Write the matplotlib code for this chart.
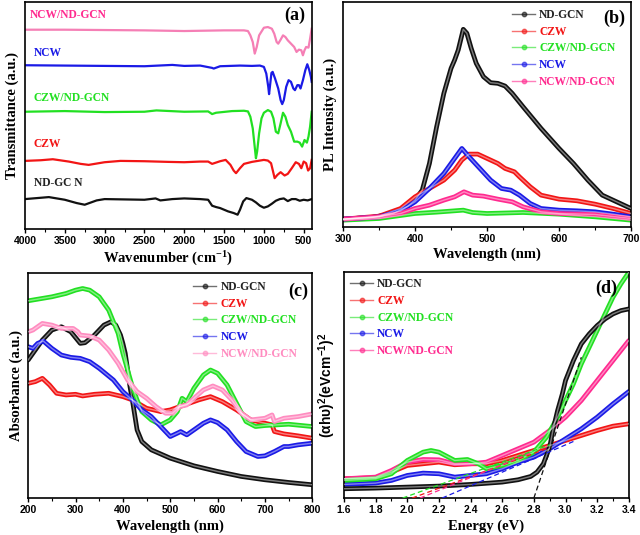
import numpy as np
import matplotlib
matplotlib.use("Agg")
import matplotlib.pyplot as plt
from matplotlib.lines import Line2D
from matplotlib.ticker import MultipleLocator

plt.rcParams['mathtext.default'] = 'regular'

SERIF = 'Liberation Serif'
SANS = 'Liberation Sans'

names = ['ND-GCN', 'CZW', 'CZW/ND-GCN', 'NCW', 'NCW/ND-GCN']

# ---------------- (a) FTIR ----------------
ftir_black_x = [4000, 3850, 3700, 3500, 3350, 3250, 3100, 3000, 2500, 2360, 2300, 2150, 2000, 1800, 1700, 1650,
                1600, 1550, 1450, 1380, 1330, 1300, 1260, 1220, 1150, 1100, 1050, 1000, 950, 900, 850, 800,
                750, 700, 650, 600, 550, 500, 450, 400]
ftir_black_y = [90, 93, 96, 88, 78, 73, 86, 90, 88, 92, 86, 90, 92, 90, 88, 70,
                66, 63, 53, 48, 43, 58, 83, 93, 88, 80, 70, 64, 68, 76, 85, 90,
                92, 84, 90, 90, 85, 88, 86, 90]
ftir_red_x = [4000, 3800, 3650, 3450, 3300, 3200, 3000, 2800, 2500, 2200, 2000, 1800, 1700, 1650, 1600, 1550,
              1480, 1420, 1380, 1350, 1300, 1250, 1150, 1050, 1000, 950, 910, 880, 865, 830, 790, 740,
              700, 650, 600, 560, 530, 500, 470, 445, 420, 400]
ftir_red_y = [205, 207, 210, 203, 196, 193, 201, 205, 204, 202, 201, 203, 203, 196, 200, 204,
              208, 193, 176, 168, 183, 196, 202, 206, 208, 206, 198, 168, 153, 163, 171, 161,
              166, 183, 201, 196, 183, 203, 198, 176, 183, 208]
ftir_green_x = [4000, 3500, 3000, 2500, 2350, 2000, 1700, 1650, 1600, 1400, 1250, 1200, 1170, 1140, 1120, 1100,
                1085, 1060, 1030, 1000, 950, 910, 880, 850, 820, 790, 760, 730, 700, 660, 620, 580,
                550, 520, 490, 460, 440, 420, 400]
ftir_green_y = [353, 355, 352, 353, 357, 353, 354, 346, 350, 355, 356, 354, 338, 303, 258, 213,
                233, 288, 333, 350, 358, 353, 333, 293, 288, 318, 350, 338, 313, 293, 263, 263,
                260, 248, 268, 260, 278, 308, 353]
ftir_blue_x = [4000, 3500, 3000, 2500, 2150, 2000, 1800, 1650, 1630, 1550, 1300, 1150, 1050, 1000, 970, 945,
               935, 920, 905, 890, 860, 820, 790, 770, 750, 720, 690, 660, 630, 610, 580, 560,
               540, 510, 480, 455, 430, 410, 400]
ftir_blue_y = [493, 492, 491, 490, 494, 491, 492, 485, 483, 490, 492, 491, 492, 488, 468, 428,
               406, 438, 470, 473, 453, 423, 388, 376, 388, 428, 448, 443, 423, 418, 433, 433,
               423, 448, 478, 496, 478, 458, 443]
ftir_pink_x = [4000, 3500, 3000, 2500, 2000, 1500, 1250, 1200, 1170, 1140, 1115, 1090, 1060, 1000, 950, 900,
               870, 840, 820, 790, 760, 730, 700, 660, 620, 590, 560, 530, 510, 490, 470, 440,
               420, 400]
ftir_pink_y = [600, 600, 599, 598, 596, 598, 598, 596, 583, 563, 528, 548, 583, 606, 608, 603,
               588, 563, 558, 570, 583, 578, 568, 558, 548, 533, 540, 538, 523, 538, 548, 546,
               573, 603]

# ---------------- (b) PL ----------------
pl_black_x = [300, 340, 370, 390, 400, 410, 420, 430, 440, 450, 455, 460, 467, 472, 478, 485,
              495, 505, 515, 525, 535, 550, 575, 600, 620, 640, 660, 680, 700]
pl_black_y = [23, 28, 40, 62, 80, 110, 190, 300, 400, 475, 500, 530, 592, 580, 535, 490,
              450, 432, 430, 422, 400, 360, 295, 235, 190, 140, 95, 75, 55]
pl_red_x = [300, 350, 380, 400, 420, 440, 455, 465, 475, 487, 500, 515, 525, 538, 545, 560,
            575, 600, 625, 650, 675, 700]
pl_red_y = [23, 32, 55, 90, 115, 140, 170, 200, 218, 218, 205, 190, 175, 165, 150, 120,
            95, 83, 78, 68, 55, 40]
pl_green_x = [300, 350, 400, 430, 467, 480, 500, 550, 600, 650, 700]
pl_green_y = [20, 25, 40, 44, 50, 43, 40, 43, 38, 30, 20]
pl_blue_x = [300, 350, 380, 400, 420, 440, 455, 465, 475, 490, 505, 520, 533, 545, 560, 575,
             600, 625, 650, 675, 700]
pl_blue_y = [23, 30, 48, 75, 115, 160, 205, 235, 210, 175, 140, 115, 110, 95, 70, 55,
             50, 48, 45, 38, 30]
pl_pink_x = [300, 350, 380, 400, 420, 440, 455, 468, 480, 495, 515, 535, 550, 575, 600, 650, 700]
pl_pink_y = [23, 30, 40, 55, 65, 80, 90, 105, 95, 92, 83, 75, 60, 45, 40, 37, 25]

# ---------------- (c) UV-vis ----------------
uv_black_x = [200, 210, 230, 250, 270, 290, 310, 320, 340, 360, 375, 385, 395, 400, 405, 410,
              415, 420, 425, 430, 440, 460, 500, 550, 600, 650, 700, 750, 800]
uv_black_y = [415, 435, 475, 505, 515, 500, 465, 467, 490, 520, 530, 520, 490, 465, 435, 385,
              335, 295, 250, 205, 170, 145, 120, 97, 80, 65, 55, 47, 40]
uv_red_x = [200, 215, 230, 245, 260, 280, 300, 315, 340, 370, 400, 420, 450, 480, 500, 520,
            540, 560, 585, 610, 640, 670, 700, 715, 720, 740, 770, 800]
uv_red_y = [345, 350, 360, 340, 315, 310, 312, 307, 312, 315, 305, 295, 270, 260, 265, 275,
            285, 295, 305, 290, 265, 235, 225, 220, 200, 193, 187, 180]
uv_green_x = [200, 250, 280, 300, 315, 330, 350, 370, 390, 400, 410, 420, 430, 440, 460, 480,
              500, 515, 525, 535, 550, 570, 585, 600, 620, 640, 660, 680, 700, 750, 800]
uv_green_y = [593, 605, 615, 625, 630, 625, 605, 565, 495, 435, 385, 335, 295, 260, 235, 220,
              235, 260, 300, 290, 330, 370, 385, 375, 340, 285, 230, 215, 218, 222, 215]
uv_blue_x = [200, 210, 220, 232, 250, 270, 290, 310, 330, 350, 380, 400, 420, 440, 460, 480,
             500, 515, 522, 535, 550, 570, 585, 600, 620, 640, 660, 685, 700, 720, 740, 750,
             770, 800]
uv_blue_y = [455, 450, 465, 472, 450, 430, 423, 420, 410, 390, 355, 320, 295, 265, 245, 215,
             185, 195, 200, 190, 205, 225, 235, 227, 205, 170, 140, 125, 127, 140, 155, 155,
             160, 165]
uv_pink_x = [200, 210, 230, 250, 270, 295, 305, 310, 330, 350, 370, 390, 410, 430, 450, 470,
             490, 505, 520, 535, 550, 570, 590, 610, 630, 650, 670, 700, 715, 720, 740, 770, 800]
uv_pink_y = [500, 505, 525, 520, 510, 510, 500, 490, 487, 475, 445, 405, 355, 320, 300, 275,
             255, 255, 275, 280, 300, 325, 337, 325, 295, 255, 235, 240, 250, 230, 240, 245, 253]

# ---------------- (d) Tauc ----------------
tauc_black_x = [1.6, 1.8, 2.0, 2.2, 2.4, 2.6, 2.7, 2.78, 2.82, 2.86, 2.9, 2.92, 2.95, 2.98, 3.0, 3.05,
                3.1, 3.15, 3.2, 3.25, 3.3, 3.35, 3.4]
tauc_black_y = [28, 30, 33, 36, 41, 48, 55, 65, 78, 103, 153, 203, 263, 313, 353, 413,
                463, 493, 518, 538, 553, 563, 568]
tauc_green_x = [1.6, 1.8, 1.9, 2.0, 2.1, 2.15, 2.2, 2.3, 2.38, 2.45, 2.5, 2.55, 2.6, 2.7, 2.8, 2.88,
                2.95, 3.0, 3.05, 3.1, 3.15, 3.2, 3.25, 3.3, 3.35, 3.4]
tauc_green_y = [53, 58, 73, 113, 138, 143, 138, 113, 116, 103, 88, 93, 98, 113, 138, 183,
                243, 293, 343, 403, 453, 503, 553, 603, 643, 678]
tauc_red_x = [1.6, 1.8, 1.9, 2.0, 2.1, 2.2, 2.3, 2.4, 2.5, 2.6, 2.7, 2.8, 2.9, 3.0, 3.1, 3.2, 3.3, 3.4]
tauc_red_y = [58, 61, 78, 98, 103, 108, 100, 103, 103, 113, 128, 143, 158, 173, 188, 203, 216, 223]
tauc_pink_x = [1.6, 1.8, 1.9, 2.0, 2.1, 2.2, 2.3, 2.4, 2.5, 2.6, 2.7, 2.8, 2.9, 3.0, 3.1, 3.2, 3.3, 3.4]
tauc_pink_y = [58, 63, 83, 108, 116, 115, 103, 103, 108, 128, 148, 168, 203, 243, 293, 353, 413, 473]
tauc_blue_x = [1.6, 1.8, 1.9, 2.0, 2.1, 2.2, 2.3, 2.4, 2.5, 2.6, 2.7, 2.8, 2.9, 3.0, 3.1, 3.2, 3.3, 3.4]
tauc_blue_y = [41, 45, 53, 68, 75, 73, 63, 68, 73, 88, 108, 123, 148, 178, 208, 243, 283, 320]

# band-gap extrapolations: (x at zero, x end, y end) per sample
fit_x0 = [2.80, 2.03, 1.97, 2.22, 2.08]
fit_x1 = [3.10, 2.88, 2.90, 3.05, 2.78]
fit_y1 = [423, 148, 160, 170, 135]

col_black = '#111111'
col_red = '#f21515'
col_green = '#22e022'
col_blue = '#1a1ae6'
col_pink_a = '#f57fb5'
col_pink = '#ff2a8f'
col_pink_c = '#ff8cc0'


def hollow(ax, x, y, color, lw=3.4):
    # thick coloured trace with a pale core, like the dense open-circle symbols
    ax.plot(x, y, color=color, lw=lw, solid_capstyle='round', zorder=2)
    ax.plot(x, y, color='white', lw=lw * 0.3, alpha=0.45, zorder=3)


def style_axes(ax, xmin, xmax, major, minor, fmt=None):
    ax.set_xlim(xmin, xmax)
    ax.xaxis.set_major_locator(MultipleLocator(major))
    ax.xaxis.set_minor_locator(MultipleLocator(minor))
    ax.set_yticks([])
    ax.tick_params(axis='x', which='major', direction='out', length=3, width=1, pad=2,
                   labelsize=7.5)
    ax.tick_params(axis='x', which='minor', direction='out', length=2, width=0.8)
    for lab in ax.get_xticklabels():
        lab.set_fontfamily(SANS)
        lab.set_fontweight('bold')
    for sp in ax.spines.values():
        sp.set_linewidth(1.2)


def add_legend(ax, colors, x, y):
    handles = [Line2D([0], [0], color=c, lw=1.0, alpha=0.6, marker='o', markersize=3.2,
                      markerfacecolor=c, markeredgecolor=c) for c in colors]
    leg = ax.legend(handles, names, loc='upper left', bbox_to_anchor=(x, y), frameon=False,
                    handlelength=2.0, handletextpad=0.35, labelspacing=0.42, borderpad=0,
                    borderaxespad=0, prop={'family': SERIF, 'weight': 'bold', 'size': 8.3})
    for t, c in zip(leg.get_texts(), colors):
        t.set_color(c if c != col_black else '#222222')


fig = plt.figure(figsize=(6.4, 5.35), dpi=100)
lab_font = dict(family=SERIF, weight='bold', size=10.5)

# (a)
ax = fig.add_axes([0.039, 0.572, 0.448, 0.424])
ax.plot(ftir_black_x, ftir_black_y, color=col_black, lw=1.6)
ax.plot(ftir_red_x, ftir_red_y, color=col_red, lw=1.6)
ax.plot(ftir_green_x, ftir_green_y, color=col_green, lw=1.6)
ax.plot(ftir_blue_x, ftir_blue_y, color=col_blue, lw=1.6)
ax.plot(ftir_pink_x, ftir_pink_y, color=col_pink_a, lw=1.6)
ax.set_ylim(0, 683)
style_axes(ax, 4000, 400, 500, 250)
ax.set_xlabel('Wavenumber (cm$^{-1}$)', labelpad=3, **lab_font)
ax.set_ylabel('Transmittance (a.u.)', labelpad=4, **lab_font)
tfont = dict(family=SERIF, weight='bold', size=8.3, va='center', transform=ax.transAxes)
ax.text(0.017, 0.943, 'NCW/ND-GCN', color=col_pink, **tfont)
ax.text(0.031, 0.775, 'NCW', color=col_blue, **tfont)
ax.text(0.031, 0.577, 'CZW/ND-GCN', color=col_green, **tfont)
ax.text(0.031, 0.374, 'CZW', color=col_red, **tfont)
ax.text(0.031, 0.203, 'ND-GC N', color='#222222', **tfont)
ax.text(0.976, 0.943, '(a)', ha='right', va='center', transform=ax.transAxes,
        family=SERIF, weight='bold', size=13)

# (b)
ax = fig.add_axes([0.536, 0.576, 0.45, 0.421])
hollow(ax, pl_black_x, pl_black_y, col_black)
hollow(ax, pl_red_x, pl_red_y, col_red)
hollow(ax, pl_green_x, pl_green_y, col_green)
hollow(ax, pl_blue_x, pl_blue_y, col_blue)
hollow(ax, pl_pink_x, pl_pink_y, col_pink)
ax.set_ylim(0, 675)
style_axes(ax, 300, 700, 100, 50)
ax.set_xlabel('Wavelength (nm)', labelpad=3, **lab_font)
ax.set_ylabel('PL Intensity (a.u.)', labelpad=4, **lab_font)
add_legend(ax, [col_black, col_red, col_green, col_blue, col_pink], 0.587, 0.968)
ax.text(0.979, 0.924, '(b)', ha='right', va='center', transform=ax.transAxes,
        family=SERIF, weight='bold', size=13)

# (c)
ax = fig.add_axes([0.044, 0.069, 0.444, 0.421])
hollow(ax, uv_black_x, uv_black_y, col_black)
hollow(ax, uv_red_x, uv_red_y, col_red)
hollow(ax, uv_green_x, uv_green_y, col_green)
hollow(ax, uv_blue_x, uv_blue_y, col_blue)
hollow(ax, uv_pink_x, uv_pink_y, col_pink_c)
ax.set_ylim(0, 677)
style_axes(ax, 200, 800, 100, 50)
ax.set_xlabel('Wavelength (nm)', labelpad=3, **lab_font)
ax.set_ylabel('Absorbance (a.u.)', labelpad=4, **lab_font)
add_legend(ax, [col_black, col_red, col_green, col_blue, col_pink_c], 0.581, 0.965)
ax.text(0.986, 0.92, '(c)', ha='right', va='center', transform=ax.transAxes,
        family=SERIF, weight='bold', size=13)

# (d)
ax = fig.add_axes([0.5375, 0.069, 0.445, 0.422])
hollow(ax, tauc_red_x, tauc_red_y, col_red)
hollow(ax, tauc_blue_x, tauc_blue_y, col_blue)
hollow(ax, tauc_pink_x, tauc_pink_y, col_pink)
hollow(ax, tauc_green_x, tauc_green_y, col_green)
hollow(ax, tauc_black_x, tauc_black_y, col_black)
fit_cols = [col_black, col_red, col_green, col_blue, col_pink]
for x0, x1, y1, c in zip(fit_x0, fit_x1, fit_y1, fit_cols):
    ax.plot([x0, x1], [0, y1], color=c, lw=0.9, ls=(0, (4, 2.5)), zorder=4)
ax.set_ylim(0, 678)
style_axes(ax, 1.6, 3.4, 0.2, 0.1)
ax.xaxis.set_major_formatter(matplotlib.ticker.FormatStrFormatter('%.1f'))
for lab in ax.get_xticklabels():
    lab.set_fontfamily(SANS)
    lab.set_fontweight('bold')
ax.set_xlabel('Energy (eV)', labelpad=3, **lab_font)
ax.set_ylabel('(αhυ)$^{2}$(eVcm$^{-1}$)$^{2}$', labelpad=4, family=SANS, weight='bold', size=10)
add_legend(ax, [col_black, col_red, col_green, col_blue, col_pink], 0.021, 0.975)
ax.text(0.958, 0.929, '(d)', ha='right', va='center', transform=ax.transAxes,
        family=SERIF, weight='bold', size=13)

fig.savefig('out.png', dpi=100)
